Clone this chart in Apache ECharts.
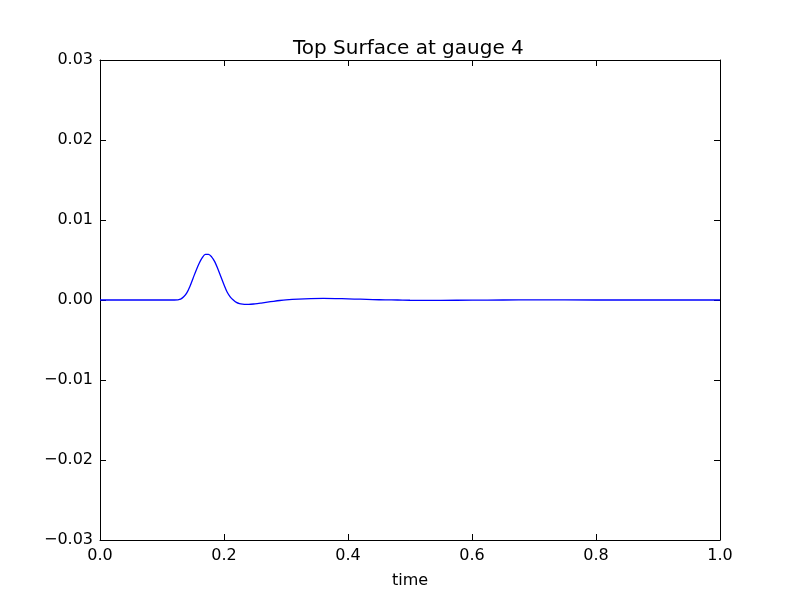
<!DOCTYPE html>
<html><head><meta charset="utf-8">
<script src="https://cdn.jsdelivr.net/npm/echarts@6/dist/echarts.min.js"></script>
<style>html,body{margin:0;padding:0;background:#fff}#c{width:800px;height:600px}</style>
</head><body><div id="c"></div>
<script>
const times = [0,0.05,0.1,0.12,0.125,0.13,0.135,0.14,0.145,0.15,0.155,0.16,0.165,0.17,0.175,0.18,0.185,0.19,0.195,0.2,0.205,0.21,0.215,0.22,0.225,0.23,0.235,0.24,0.25,0.26,0.27,0.28,0.29,0.3,0.32,0.34,0.36,0.38,0.4,0.42,0.44,0.46,0.48,0.5,0.55,0.6,0.65,0.7,0.8,0.9,1.0];
const surface = [0,0,0,0,0.00002,0.0001,0.0004,0.0009,0.0017,0.0027,0.0037,0.0046,0.0053,0.0057,0.0057,0.0054,0.0048,0.0039,0.0029,0.0019,0.0010,0.0004,0.0000,-0.0003,-0.00045,-0.00052,-0.00055,-0.00055,-0.00048,-0.00038,-0.00027,-0.00016,-0.00006,0.00002,0.00012,0.00018,0.0002,0.00018,0.00014,0.0001,0.00005,0.00002,0,-0.00003,-0.00004,-0.00002,0,0.00001,0,0,0];
const titleText = 'Top Surface at gauge 4';
const xLabel = 'time';

const font = 'DejaVu Sans';
const minus = s => s.replace('-', '\u2212');
const chart = echarts.init(document.getElementById('c'), null, {renderer:'canvas'});
const axisCommon = {
  axisLine:{show:true,onZero:false,lineStyle:{color:'#000',width:1}},
  axisTick:{show:true,inside:true,length:6,lineStyle:{color:'#000',width:1}},
  splitLine:{show:false}
};
chart.setOption({
  animation:false,
  title:{text:titleText,left:288,top:34,textStyle:{fontFamily:font,fontSize:20,fontWeight:'normal',color:'#000'}},
  grid:{left:100,right:80,top:60,bottom:60,containLabel:false},
  xAxis:[
    Object.assign({type:'value',min:0,max:1,interval:0.2,position:'bottom',
      name:xLabel,nameLocation:'middle',nameGap:33,nameTextStyle:{fontFamily:font,fontSize:16,color:'#000'},
      axisLabel:{fontFamily:font,fontSize:16,color:'#000',margin:8,formatter:v=>minus(v.toFixed(1))}},axisCommon),
    Object.assign({type:'value',min:0,max:1,interval:0.2,position:'top',axisLabel:{show:false}},axisCommon)
  ],
  yAxis:[
    Object.assign({type:'value',min:-0.03,max:0.03,interval:0.01,position:'left',
      axisLabel:{fontFamily:font,fontSize:16,color:'#000',margin:7,formatter:v=>minus(v.toFixed(2))}},axisCommon),
    Object.assign({type:'value',min:-0.03,max:0.03,interval:0.01,position:'right',axisLabel:{show:false}},axisCommon)
  ],
  series:[{type:'line',data:times.map((t,i)=>[t,surface[i]]),showSymbol:false,smooth:0.3,
    lineStyle:{color:'#0000ff',width:1.3},itemStyle:{color:'#0000ff'}}]
});
</script></body></html>
